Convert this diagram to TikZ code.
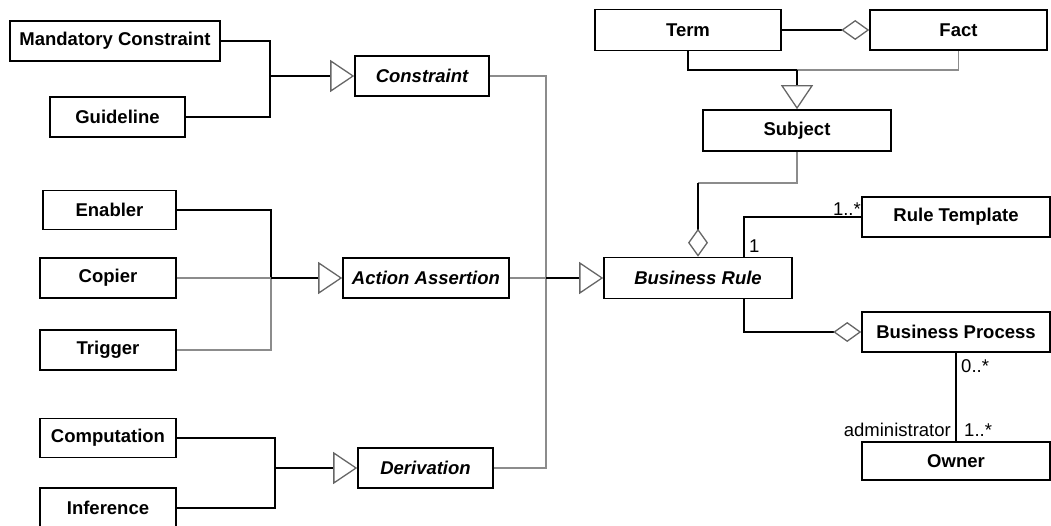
\documentclass[tikz,border=0pt]{standalone}
\usepackage{fontspec}
\setmainfont{Liberation Sans}
\usetikzlibrary{arrows.meta}
\tikzset{
 box/.style={draw=black, line width=1.6pt, fill=white, inner sep=0pt, font=\fontsize{18.5}{21}\selectfont\bfseries},
 absbox/.style={box, font=\fontsize{18.5}{21}\selectfont\bfseries\itshape},
 conn/.style={draw=black, line width=1.3pt},
 connG/.style={draw=black!45, line width=1.3pt},
 gen/.style={-{Triangle[open, length=24pt, width=32pt, color=black!60]}},
 agg/.style={-{Diamond[open, length=28pt, width=20pt, color=black!60]}},
 lab/.style={inner sep=0pt, font=\fontsize{18.5}{21}\selectfont},
}
\begin{document}
\begin{tikzpicture}[x=1pt,y=-1pt]
\useasboundingbox (0,0) rectangle (1051,526);
% left classes
\node[box, minimum width=210pt, minimum height=40pt] (mc) at (115,41) {Mandatory Constraint};
\node[box, minimum width=135pt, minimum height=40pt] (guide) at (117.5,117) {Guideline};
\node[absbox, minimum width=134pt, minimum height=40pt] (cons) at (422,76) {Constraint};
\node[box, minimum width=133pt, minimum height=39pt] (enab) at (109.5,210) {Enabler};
\node[box, minimum width=136pt, minimum height=40pt] (copier) at (108,278) {Copier};
\node[box, minimum width=136pt, minimum height=40pt] (trig) at (108,350) {Trigger};
\node[absbox, minimum width=166pt, minimum height=40pt] (aa) at (426,278) {Action Assertion};
\node[box, minimum width=136pt, minimum height=39pt] (comp) at (108,438) {Computation};
\node[box, minimum width=136pt, minimum height=40pt] (infer) at (108,508) {Inference};
\node[absbox, minimum width=135pt, minimum height=40pt] (deriv) at (425.5,468) {Derivation};
% right classes
\node[box, minimum width=186pt, minimum height=41pt] (term) at (688,30) {Term};
\node[box, minimum width=177pt, minimum height=40pt] (fact) at (958.5,30) {Fact};
\node[box, minimum width=188pt, minimum height=41pt] (subject) at (797,130.5) {Subject};
\node[absbox, minimum width=188pt, minimum height=41pt] (br) at (698,278) {Business Rule};
\node[box, minimum width=188pt, minimum height=40pt] (rt) at (956,217) {Rule Template};
\node[box, minimum width=188pt, minimum height=40pt] (bp) at (956,332) {Business Process};
\node[box, minimum width=188pt, minimum height=38pt] (owner) at (956,461) {Owner};
% junctions
\coordinate (jc) at (270,76);
\coordinate (ja) at (271,278);
\coordinate (jd) at (275,468);
\coordinate (jb) at (546,278);
\coordinate (jt) at (797,70);
\coordinate (ks) at (698,183);
% generalisations
\draw[conn] (mc.east) -| (jc);
\draw[conn] (guide.east) -| (jc);
\draw[conn,gen] (jc) -- (cons.west);
\draw[conn] (enab.east) -| (ja);
\draw[connG] (copier.east) -- (ja);
\draw[connG] (trig.east) -| (ja);
\draw[conn,gen] (ja) -- (aa.west);
\draw[conn] (comp.east) -| (jd);
\draw[conn] (infer.east) -| (jd);
\draw[conn,gen] (jd) -- (deriv.west);
\draw[connG] (aa.east) -- (jb);
\draw[connG] (cons.east) -| (jb);
\draw[connG] (deriv.east) -| (jb);
\draw[conn,gen] (jb) -- (br.west);
\draw[conn] (term.south) |- (jt);
\draw[connG] (fact.south) |- (jt);
\draw[conn,gen] (jt) -- (subject.north);
% aggregations and associations
\draw[conn,agg] (term.east) -- (fact.west);
\draw[connG] (subject.south) |- (ks);
\draw[conn,agg] (ks) -- (br.north);
\draw[conn] ([xshift=46pt]br.north) |- (rt.west);
\draw[conn,agg] ([xshift=46pt]br.south) |- (bp.west);
\draw[conn] (bp.south) -- (owner.north);
% labels
\node[lab, anchor=west] (m1) at (749,246) {1};
\node[lab, anchor=east] (m2) at (861,209) {1..*};
\node[lab, anchor=west] (m3) at (961,366) {0..*};
\node[lab, anchor=east] (m4) at (951,430) {administrator};
\node[lab, anchor=west] (m5) at (964,430) {1..*};
\end{tikzpicture}
\end{document}
